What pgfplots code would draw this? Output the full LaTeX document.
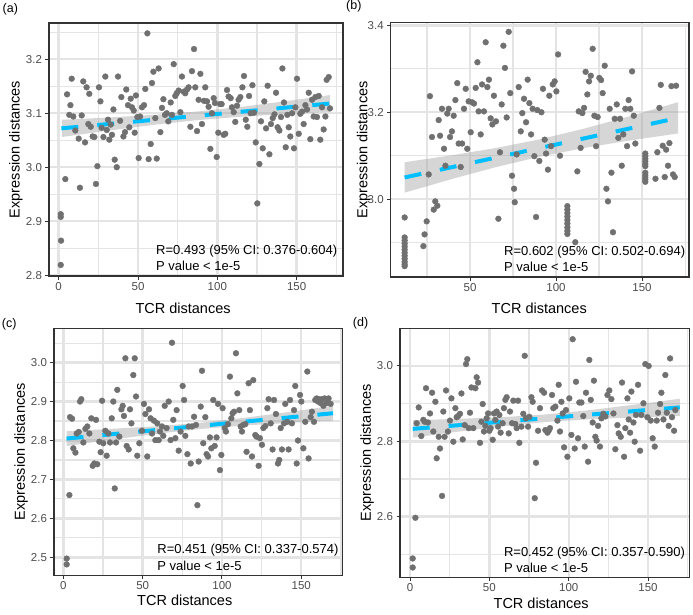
\documentclass[border=0pt]{standalone}
\usepackage{fontspec}
\setmainfont{Liberation Sans}
\usepackage{pgfplots}
\pgfplotsset{compat=1.18}
\definecolor{ptgrey}{RGB}{112,112,112}
\definecolor{fitblue}{RGB}{0,191,255}
\definecolor{gridgrey}{RGB}{228,228,228}
\definecolor{frame}{RGB}{51,51,51}
\definecolor{ticktext}{RGB}{77,77,77}
\definecolor{bandgrey}{RGB}{153,153,153}

\pgfplotsset{
  panel/.style={
    scale only axis,
    axis line style={frame, line width=1.1pt},
    grid=both,
    major grid style={gridgrey, line width=2.4pt},
    minor grid style={gridgrey, line width=1.1pt},
    tick pos=left,
    tick align=outside, major tick length=3.5pt, minor tick length=0pt,
    major tick style={frame, line width=1pt},
    scaled ticks=false,
    /pgf/number format/assume math mode=true,
    xticklabel style={font=\fontsize{11.5}{13}\selectfont, text=ticktext, inner sep=2.5pt,
      /pgf/number format/fixed, /pgf/number format/precision=0},
    yticklabel style={font=\fontsize{11.5}{13}\selectfont, text=ticktext,
      /pgf/number format/fixed, /pgf/number format/fixed zerofill,
      /pgf/number format/precision=1},
    label style={font=\fontsize{14.5}{16}\selectfont, inner sep=0pt},
    xlabel={TCR distances}, ylabel={Expression distances},
    xtick={0,50,100,150}, minor xtick={25,75,125,175},
  },
  pts/.style={only marks, mark=*, mark size=2.9pt, ptgrey, mark options={draw=none, fill=ptgrey}},
  band/.style={draw=none, fill=bandgrey, fill opacity=0.4},
  fit/.style={fitblue, line width=4pt, dash pattern=on 17pt off 19pt, no marks},
}
\tikzset{
  note/.style={anchor=south east, align=left, inner sep=0pt, font=\fontsize{13}{16.3}\selectfont},
  tag/.style={anchor=west, inner sep=0pt, font=\fontsize{12.5}{14}\selectfont},
}

\begin{document}
\begin{tikzpicture}
\path[use as bounding box] (0,0) rectangle (693pt,614pt);

% (a)
\begin{axis}[panel, at={(49pt,338pt)}, width=294pt, height=253pt,
  xmin=-6.1, xmax=179.2, ymin=2.7985, ymax=3.2672,
  ytick={2.8,2.9,3.0,3.1,3.2}, minor ytick={2.85,2.95,3.05,3.15,3.25},
  xlabel style={at={(axis description cs:0.456,-0.1265)}, anchor=center},
  ylabel style={at={(axis description cs:-0.113,0.5)}, anchor=center}]
\addplot[band] coordinates {(2,3.088) (30,3.0919) (60,3.0970) (88,3.1034) (115,3.1118) (145,3.1231) (171,3.1336)
  (171,3.1024) (145,3.0987) (115,3.0936) (88,3.0874) (60,3.0786) (30,3.0673) (2,3.056)} -- cycle;
\addplot[pts] coordinates {
(1.3,2.913)(1.3,2.908)(1.5,2.864)(1.3,2.819)(4.2,2.978)(5.3,3.135)(6.7,3.097)(7.4,3.115)(8.2,3.164)(9.2,3.094)
(10.5,3.068)(12.6,3.053)(13.4,2.962)(14.5,3.096)(15.5,3.159)(16.6,3.046)(17.6,3.148)(18.7,3.080)(19.3,3.136)(20.2,3.075)
(21.4,3.057)(22.5,3.056)(23.5,2.969)(24.4,3.002)(25.4,3.148)(26.3,3.122)(27.1,3.073)(28.2,3.056)(29.4,3.168)(30.3,3.069)
(31.1,3.088)(31.9,3.051)(32.8,3.079)(33.6,3.060)(34.5,3.107)(35.3,3.014)(36.6,3.000)(37.4,3.168)(38.7,3.086)(39.5,3.130)
(40.8,3.057)(41.8,3.065)(42.6,3.144)(43.7,3.115)(44.5,3.074)(45.4,3.127)(46.2,3.111)(47.3,3.105)(47.9,3.064)(48.7,3.133)
(49.6,3.093)(50.4,3.017)(51.3,3.094)(52.5,3.111)(53.8,3.115)(54.6,3.145)(55.9,3.248)(56.7,3.015)(58.0,3.043)(58.8,3.156)
(59.7,3.177)(60.9,3.091)(61.8,3.016)(63.0,3.183)(64.1,3.065)(65.1,3.110)(66.0,3.126)(67.0,3.097)(68.1,3.100)(69.1,3.085)
(70.6,3.120)(71.4,3.097)(72.5,3.191)(73.5,3.132)(74.4,3.137)(75.6,3.142)(76.7,3.102)(77.7,3.168)(78.8,3.140)(79.8,3.137)
(80.9,3.144)(81.9,3.148)(83.0,3.075)(84.0,3.178)(85.3,3.219)(86.1,3.148)(87.2,3.067)(88.2,3.125)(89.3,3.173)(90.3,3.080)
(91.6,3.123)(92.4,3.148)(93.5,3.122)(94.5,3.112)(95.6,3.034)(96.6,3.100)(97.7,3.128)(98.5,3.119)(99.6,3.019)(100.6,3.064)
(101.7,3.117)(102.7,3.117)(104.0,3.060)(105.0,3.062)(106.1,3.143)(107.1,3.131)(108.4,3.128)(109.2,3.111)(110.3,3.102)(111.3,3.084)
(112.4,3.114)(113.4,3.125)(114.5,3.130)(115.8,3.148)(116.8,3.169)(117.9,3.088)(118.9,3.075)(120.0,3.132)(121.0,3.100)(122.1,3.152)
(123.1,3.101)(124.2,3.046)(125.2,2.933)(126.5,3.006)(127.5,3.085)(128.6,3.035)(129.6,3.122)(130.7,3.072)(131.7,3.151)(132.8,3.024)
(133.8,3.080)(134.9,3.091)(136.0,3.098)(137.0,3.138)(138.0,3.074)(139.1,3.068)(140.1,3.093)(141.0,3.183)(142.0,3.120)(143.1,3.037)
(144.1,3.097)(145.0,3.074)(146.0,3.057)(147.1,3.100)(148.3,3.035)(149.2,3.111)(150.2,3.164)(151.3,3.062)(152.3,3.099)(153.4,3.103)
(154.4,3.080)(155.5,3.115)(156.5,3.107)(157.6,3.138)(158.6,3.052)(159.7,3.125)(160.7,3.094)(161.8,3.130)(162.8,3.093)(163.9,3.132)
(164.9,3.051)(166.0,3.111)(167.0,3.070)(168.1,3.094)(168.9,3.162)(170.2,3.167)(171.0,3.109)};
\addplot[fit] coordinates {(1.7,3.072) (171,3.118)};
\node[note] at (rel axis cs:0.981,0.021) {R=0.493 (95\% CI: 0.376-0.604)\\P value < 1e-5};
\end{axis}

% (b)
\begin{axis}[panel, at={(390.7pt,337pt)}, width=298.3pt, height=254.3pt,
  xmin=3.9, xmax=177.3, ymin=2.821, ymax=3.406,
  xtick={50,100,150},
  ytick={3.0,3.2,3.4}, minor ytick={2.9,3.1,3.3},
  xlabel style={at={(axis description cs:0.498,-0.122)}, anchor=center},
  ylabel style={at={(axis description cs:-0.091,0.5)}, anchor=center}]
\addplot[band] coordinates {(12,3.085) (40,3.1014) (65,3.1177) (90,3.1373) (115,3.1609) (140,3.1877) (171,3.2231)
  (171,3.1513) (140,3.1333) (115,3.1169) (90,3.0973) (65,3.0737) (40,3.0470) (12,3.015)} -- cycle;
\addplot[pts] coordinates {
(12,2.958)(12,2.912)(12,2.905)(12,2.898)(12,2.891)(12,2.884)(12,2.877)(12,2.870)(12,2.863)(12,2.856)(12,2.850)(12,2.846)
(22.9,2.892)(23.6,2.919)(24.8,2.949)(26.0,3.057)(26.7,3.237)(27.9,3.143)(28.9,2.976)(29.8,2.995)(31.0,2.985)(31.8,3.182)
(32.6,3.146)(33.7,3.208)(34.9,3.116)(35.7,3.077)(36.8,3.197)(37.6,3.208)(38.4,3.143)(39.5,3.156)(40.5,3.192)(41.5,3.228)
(42.6,3.267)(43.4,3.128)(44.6,3.074)(45.4,3.128)(46.5,3.208)(47.5,3.254)(48.4,3.116)(49.2,3.225)(50.4,3.154)(51.2,3.223)
(52.3,3.220)(53.3,3.256)(54.3,3.315)(55.0,3.202)(56.2,3.149)(57.0,3.264)(58.1,3.202)(59.1,3.361)(60.1,3.258)(61.0,3.275)
(62.0,3.186)(63.0,3.172)(63.9,3.238)(65.1,3.179)(66.5,2.955)(67.4,3.108)(68.4,3.218)(69.4,3.353)(70.3,3.302)(71.3,3.188)
(72.5,3.385)(73.4,3.244)(74.4,3.054)(75.6,3.024)(76.0,2.993)(77.1,3.103)(78.3,3.258)(79.5,3.156)(80.4,3.198)(81.4,3.231)
(82.6,3.177)(83.5,3.275)(84.5,3.221)(85.5,3.149)(86.4,3.208)(87.4,3.099)(88.4,2.959)(89.1,3.205)(90.3,3.088)(91.5,3.200)
(92.4,3.254)(93.4,3.137)(94.2,3.105)(95.3,3.068)(96.1,3.238)(97.1,3.122)(98.1,3.264)(99.2,3.271)(100.2,3.248)(101.2,3.333)
(102.3,3.100)
(106.6,2.984)(106.6,2.976)(106.6,2.968)(106.6,2.960)(106.6,2.952)(106.6,2.944)(106.6,2.935)(106.6,2.927)(106.6,2.920)
(111.2,2.901)(112.4,3.064)(113.2,3.202)(114.3,3.118)(115.3,3.198)(116.3,3.210)(117.2,3.293)(118.2,3.241)(119.2,3.271)(120.2,3.284)
(121.3,3.346)(122.3,3.192)(123.3,3.122)(124.2,3.189)(125.2,3.279)(126.2,3.274)(127.1,3.244)(128.3,3.307)(129.3,3.024)(130.2,2.995)
(131.2,3.208)(132.2,3.061)(133.1,2.924)(134.1,3.185)(135.3,3.218)(136.2,3.141)(137.2,3.185)(138.2,3.077)(139.1,3.149)(140.3,3.208)
(141.3,3.122)(142.2,3.228)(143.2,3.208)(144.2,3.294)(145.2,3.192)(146.1,3.128)
(151.9,3.105)(151.9,3.099)(151.9,3.093)(151.9,3.087)(151.9,3.081)(151.9,3.076)(151.9,3.061)(151.9,3.055)(151.9,3.050)(151.9,3.045)(151.9,3.040)
(157.8,3.047)(158.9,3.108)(160.1,3.210)(160.9,3.263)(162.0,3.123)(163.2,3.051)(164.0,3.114)(165.1,3.077)(165.9,3.129)(167.1,3.260)
(168.0,3.057)(169.0,3.051)(169.8,3.261)};
\addplot[fit] coordinates {(12,3.050) (171,3.187)};
\node[note] at (rel axis cs:0.988,0.021) {R=0.602 (95\% CI: 0.502-0.694)\\P value < 1e-5};
\end{axis}

% (c)
\begin{axis}[panel, at={(54pt,38.7pt)}, width=288.7pt, height=247pt,
  xmin=-5.9, xmax=176.1, ymin=2.454, ymax=3.088,
  ytick={2.5,2.6,2.7,2.8,2.9,3.0}, minor ytick={2.55,2.65,2.75,2.85,2.95,3.05},
  xlabel style={at={(axis description cs:0.453,-0.1)}, anchor=center},
  ylabel style={at={(axis description cs:-0.1136,0.5)}, anchor=center}]
\addplot[band] coordinates {(2,2.824) (30,2.8298) (60,2.8370) (86,2.8455) (115,2.8587) (145,2.8748) (170,2.889)
  (170,2.851) (145,2.8458) (115,2.8387) (86,2.8295) (60,2.8178) (30,2.8018) (2,2.786)} -- cycle;
\addplot[pts] coordinates {
(2.1,2.497)(2.1,2.482)(3.8,2.660)(4.2,2.860)(5.5,2.856)(6.3,2.780)(7.6,2.769)(8.4,2.818)(9.7,2.822)(10.5,2.900)
(11.3,2.906)(12.6,2.795)(13.9,2.830)(15.1,2.836)(16.4,2.818)(17.6,2.857)(18.5,2.735)(19.5,2.741)(20.6,2.853)(21.4,2.739)
(22.7,2.797)(23.5,2.770)(24.4,2.902)(25.2,2.793)(26.5,2.825)(27.3,2.761)(28.4,2.818)(29.4,2.795)(30.5,2.857)(31.5,2.900)
(32.4,2.677)(33.2,2.795)(34.0,2.930)(35.3,2.810)(36.6,2.880)(37.4,2.889)(38.2,2.863)(39.1,3.011)(39.9,2.786)(41.2,2.777)
(42.0,2.880)(42.9,2.844)(44.1,2.968)(45.0,3.011)(45.8,2.913)(46.6,2.761)(47.9,2.793)(49.6,2.825)(50.8,2.894)(51.7,2.868)
(52.9,2.759)(54.0,2.880)(55.0,2.857)(55.9,2.818)(57.1,2.851)(58.0,2.801)(59.2,2.844)(60.1,2.801)(60.9,2.823)(62.2,2.836)
(63.0,2.812)(63.9,2.889)(65.1,2.832)(66.4,2.900)(67.6,2.801)(68.5,3.051)(69.3,2.853)(70.6,2.806)(71.4,2.878)(72.7,2.774)
(73.9,2.823)(75.2,2.940)(76.1,2.904)(76.9,2.812)(78.2,2.765)(79.0,2.836)(80.3,2.741)(81.1,2.836)(82.4,2.861)(83.6,2.840)
(84.5,2.634)(85.3,2.746)(86.6,2.887)(87.4,2.979)(88.2,2.793)(89.5,2.860)(90.3,2.765)(91.2,2.759)(92.4,2.808)(93.3,2.780)
(94.5,2.904)(95.4,2.786)(96.6,2.808)(97.5,2.894)(98.7,2.724)(99.6,2.763)(100.4,2.883)(101.7,2.832)(102.5,2.823)(103.8,2.842)
(105.0,2.964)(105.9,2.857)(106.7,2.870)(107.6,2.874)(108.8,3.024)(109.7,2.921)(110.9,2.878)(111.8,2.836)(112.6,2.823)(113.4,2.840)
(114.7,2.842)(115.5,2.771)(116.8,2.947)(117.6,2.878)(118.9,2.759)(119.7,2.955)(121.0,2.814)(121.8,2.810)(123.1,2.735)(123.9,2.806)
(125.2,2.789)(126.1,2.832)(127.3,2.837)(128.6,2.883)(129.4,2.906)(130.7,2.844)(131.9,2.777)(132.8,2.904)(134.0,2.868)(135.3,2.741)
(136.1,2.750)(137.0,2.832)(137.8,2.777)(139.1,2.844)(139.9,2.894)(141.2,2.848)(142.0,2.777)(142.9,2.904)(144.1,2.844)(145.4,2.878)
(146.2,2.940)(147.1,2.741)(147.9,2.800)(149.2,2.917)(150.0,2.900)(151.3,2.780)(152.5,2.848)(153.8,2.977)(154.6,2.754)(155.9,2.860)
(156.7,2.874)(158.0,2.848)(158.8,2.904)(159.7,2.908)(160.5,2.900)(161.3,2.906)(162.2,2.896)(163.0,2.906)(163.9,2.889)(164.7,2.908)
(166.0,2.896)(167.2,2.908)(168.5,2.894)};
\addplot[fit] coordinates {(2,2.805) (170,2.870)};
\node[note] at (rel axis cs:0.986,0.019) {R=0.451 (95\% CI: 0.337-0.574)\\P value < 1e-5};
\end{axis}

% (d)
\begin{axis}[panel, at={(400pt,36.7pt)}, width=289.3pt, height=249pt,
  xmin=-6.3, xmax=176, ymin=2.439, ymax=3.1,
  ytick={2.6,2.8,3.0}, minor ytick={2.5,2.7,2.9,3.1},
  xlabel style={at={(axis description cs:0.488,-0.103)}, anchor=center},
  ylabel style={at={(axis description cs:-0.1134,0.5)}, anchor=center}]
\addplot[band] coordinates {(2,2.856) (30,2.8595) (60,2.8646) (86,2.8715) (115,2.8836) (145,2.8992) (170,2.913)
  (170,2.867) (145,2.8638) (115,2.8590) (86,2.8515) (60,2.8408) (30,2.8255) (2,2.810)} -- cycle;
\addplot[pts] coordinates {
(1.7,2.489)(1.7,2.465)(3.4,2.597)(4.2,2.848)(5.5,2.890)(7.1,2.814)(8.4,2.857)(9.2,2.852)(10.1,2.941)(11.3,2.850)
(12.6,2.874)(13.9,2.929)(14.7,2.826)(16.0,2.905)(16.8,2.755)(18.1,2.812)(18.9,2.781)(20.2,2.655)(21.0,2.879)(21.8,2.812)
(22.7,2.935)(23.9,2.826)(25.2,2.855)(26.1,2.914)(27.3,2.799)(28.6,2.888)(29.4,2.864)(30.3,2.867)(31.5,2.873)(32.4,2.927)
(33.2,2.805)(34.5,2.843)(35.3,3.005)(36.1,3.018)(37.0,2.835)(37.8,2.876)(38.7,2.943)(39.9,2.835)(41.2,2.941)(42.0,2.970)
(42.9,2.956)(44.1,2.796)(45.0,2.852)(45.8,2.899)(46.6,2.826)(47.5,2.841)(48.3,2.861)(49.2,2.874)(50.0,2.828)(50.8,2.835)
(52.1,2.804)(52.9,2.874)(53.8,2.857)(54.6,2.879)(55.5,2.839)(56.3,2.870)(57.1,2.823)(58.4,2.848)(59.2,2.888)(60.1,2.910)
(60.9,2.917)(62.2,2.821)(63.0,2.879)(64.3,2.848)(65.1,2.908)(66.4,2.846)(67.2,2.835)(68.1,2.908)(68.9,2.796)(70.2,2.839)
(71.4,2.873)(72.3,3.027)(73.1,2.861)(74.4,2.839)(75.2,2.865)(76.5,2.917)(77.3,2.905)(78.6,2.649)(79.4,2.743)(80.7,2.828)
(81.9,2.888)(83.2,2.935)(84.5,2.929)(85.3,2.830)(86.6,2.823)(87.4,2.828)(88.2,2.835)(89.5,2.923)(90.3,2.888)(91.6,2.892)
(92.9,2.855)(93.7,2.950)(94.5,2.826)(95.4,2.905)(96.2,2.874)(97.1,2.784)(98.3,2.883)(99.2,2.759)(100.4,2.914)(101.7,2.817)
(102.5,3.071)(103.8,2.781)(104.6,2.958)(105.9,2.808)(106.7,2.903)(108.0,2.903)(109.2,2.867)(110.1,2.786)(110.9,2.929)(112.2,2.746)
(113.0,3.016)(113.9,2.910)(115.1,2.850)(115.9,2.961)(116.8,2.812)(117.6,2.802)(118.5,2.841)(119.7,2.786)(120.6,2.861)(121.8,2.873)
(123.1,2.866)(124.4,2.923)(125.6,2.935)(126.9,2.912)(128.2,2.874)(129.4,2.779)(130.7,2.843)(131.5,2.821)(132.8,2.812)(133.6,2.956)
(134.9,2.759)(135.7,2.835)(137.0,2.914)(137.8,2.858)(138.7,2.823)(139.5,2.932)(140.8,2.850)(141.6,2.799)(142.4,2.870)(143.7,2.950)
(145.0,2.775)(145.8,2.870)(147.1,2.901)(148.3,3.005)(149.6,2.864)(150.4,3.000)(151.7,2.855)(152.9,2.808)(154.2,2.786)(155.5,2.855)
(156.3,2.876)(157.6,2.899)(158.4,2.929)(159.7,2.858)(160.9,2.976)(161.8,2.876)(163.0,2.841)(163.9,3.020)(165.1,2.864)(166.4,2.828)
(167.2,2.883)};
\addplot[fit] coordinates {(1.7,2.833) (170,2.890)};
\node[note] at (rel axis cs:0.986,0.018) {R=0.452 (95\% CI: 0.357-0.590)\\P value < 1e-5};
\end{axis}

\node[tag] at (2.5pt,605pt) {(a)};
\node[tag] at (346pt,607.3pt) {(b)};
\node[tag] at (1.7pt,289.5pt) {(c)};
\node[tag] at (352.7pt,290.3pt) {(d)};
\end{tikzpicture}
\end{document}
